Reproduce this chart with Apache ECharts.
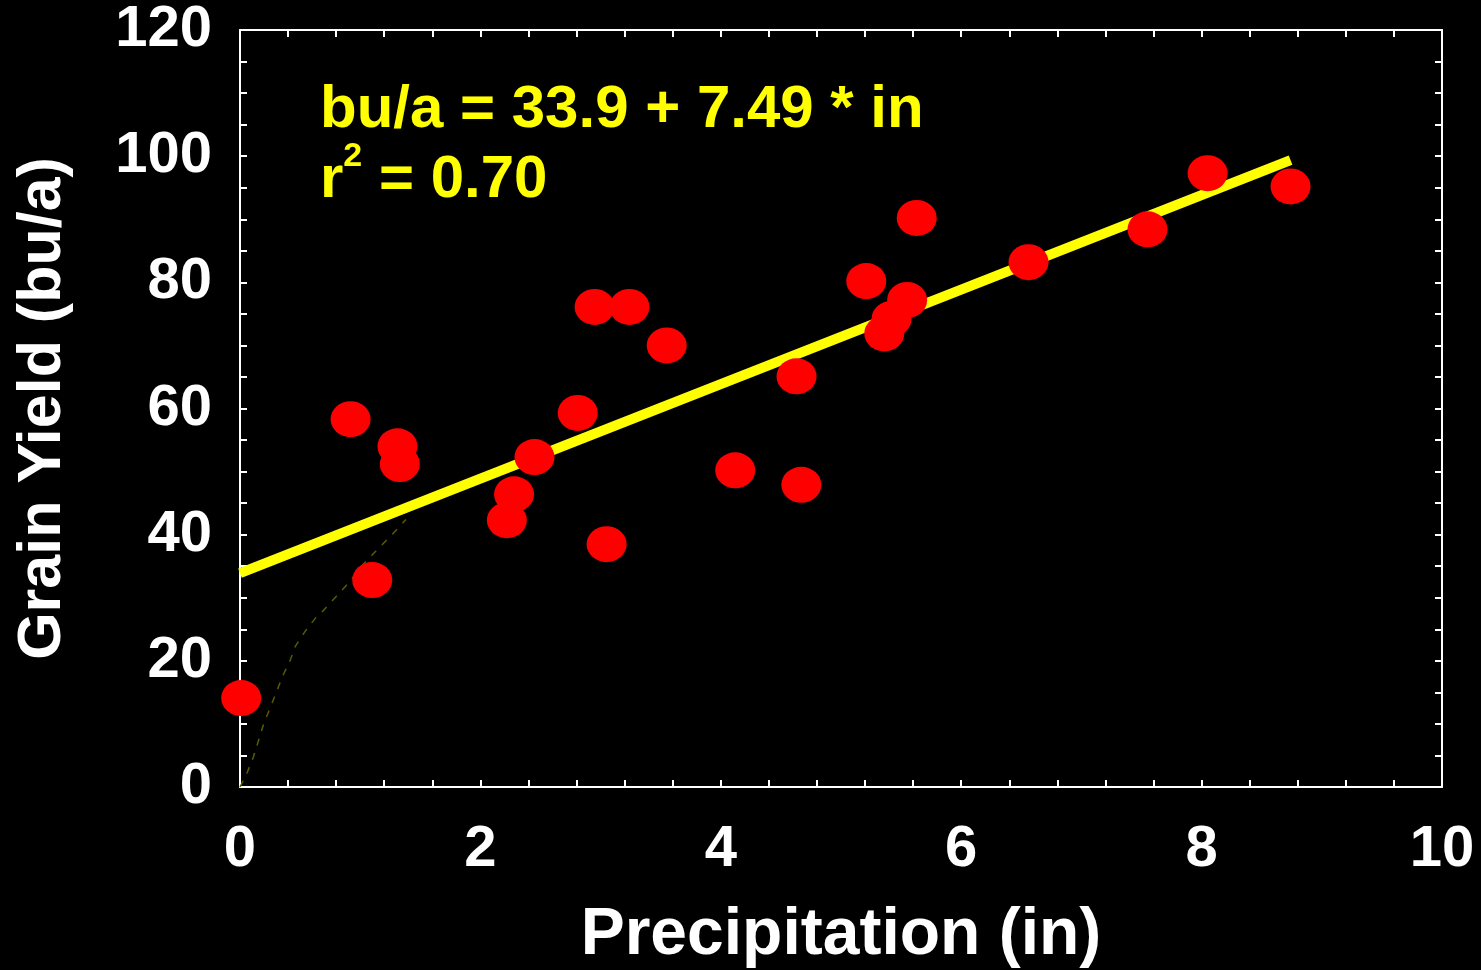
<!DOCTYPE html>
<html><head><meta charset="utf-8">
<script src="https://cdn.jsdelivr.net/npm/echarts@6/dist/echarts.min.js"></script>
<style>html,body{margin:0;padding:0;background:#000;}#c{width:1481px;height:970px;}</style>
</head><body><div id="c"></div>
<script>
// Observed points: precipitation (in) and grain yield (bu/a)
const precip = [0.01,0.92,1.10,1.31,1.33,2.22,2.28,2.45,2.81,2.95,3.05,3.24,3.55,4.12,4.63,4.67,5.21,5.36,5.42,5.55,5.63,6.56,7.55,8.05,8.74];
const yieldBu = [14.1,58.3,32.8,54.0,51.2,42.3,46.4,52.3,59.3,76.1,38.5,76.1,70.0,50.2,65.1,47.9,80.2,71.9,74.2,77.2,90.2,83.2,88.4,97.3,95.2];
// Regression line endpoints
const fitX = [0, 8.74];
const fitY = [33.9, 99.36];
// Faint dotted curve near origin
const curveX = [0.0,0.06,0.11,0.15,0.19,0.21,0.26,0.31,0.36,0.42,0.46,0.55,0.65,0.68,0.80,0.92,1.02,1.14,1.26,1.38];
const curveY = [0.0,2.3,4.7,7.1,9.6,10.6,13.0,15.4,17.8,20.2,22.3,24.9,27.3,27.7,30.2,32.7,35.2,37.6,39.9,42.4];
const eqLine1 = 'bu/a = 33.9 + 7.49 * in';
const xTitle = 'Precipitation (in)';
const yTitle = 'Grain Yield (bu/a)';

const font = 'Liberation Sans, Arial, sans-serif';
const pts = precip.map((x,i)=>[x,yieldBu[i]]);
const fit = fitX.map((x,i)=>[x,fitY[i]]);
const curve = curveX.map((x,i)=>[x,curveY[i]]);

const axisLine = {show:true,onZero:false,lineStyle:{color:'#fff',width:2}};
const axisTick = {show:true,inside:true,length:7,lineStyle:{color:'#fff',width:2}};

const chart = echarts.init(document.getElementById('c'));
chart.setOption({
  backgroundColor:'#000',
  animation:false,
  grid:{left:240,right:39,top:30,bottom:183,containLabel:false,outerBoundsMode:'none'},
  xAxis:[
    {type:'value',min:0,max:10,interval:2,position:'bottom',axisLine,axisTick,splitLine:{show:false},
      minorTick:{show:true,splitNumber:5,length:7,lineStyle:{color:'#fff',width:2}},
      axisLabel:{color:'#fff',fontSize:58,fontWeight:'bold',fontFamily:font,margin:34},
      name:xTitle,nameLocation:'middle',nameGap:116,
      nameTextStyle:{color:'#fff',fontSize:66,fontWeight:'bold',fontFamily:font}},
    {type:'value',min:0,max:10,interval:2,position:'top',axisLine,axisTick,splitLine:{show:false},
      minorTick:{show:true,splitNumber:5,length:7,lineStyle:{color:'#fff',width:2}},
      axisLabel:{show:false}}
  ],
  yAxis:[
    {type:'value',min:0,max:120,interval:20,position:'left',axisLine,axisTick,splitLine:{show:false},
      minorTick:{show:true,splitNumber:4,length:7,lineStyle:{color:'#fff',width:2}},
      axisLabel:{color:'#fff',fontSize:58,fontWeight:'bold',fontFamily:font,margin:28},
      name:yTitle,nameLocation:'middle',nameGap:166,nameRotate:90,
      nameTextStyle:{color:'#fff',fontSize:61,fontWeight:'bold',fontFamily:font}},
    {type:'value',min:0,max:120,interval:20,position:'right',axisLine,axisTick,splitLine:{show:false},
      minorTick:{show:true,splitNumber:4,length:7,lineStyle:{color:'#fff',width:2}},
      axisLabel:{show:false}}
  ],
  series:[
    {type:'line',data:curve,showSymbol:false,silent:true,
      lineStyle:{color:'#5a5a00',width:1.5,type:[7,8]},z:1},
    {type:'line',data:fit,showSymbol:false,silent:true,
      lineStyle:{color:'#ffff00',width:10},z:2},
    {type:'scatter',data:pts,symbol:'circle',symbolSize:[40,36],
      itemStyle:{color:'#ff0000',opacity:1},z:3}
  ],
  graphic:[
    {type:'text',left:320,top:80,z:10,
      style:{
        text:'{a|'+eqLine1+'}\n{a|r}{s|2}{a| = 0.70}',
        rich:{
          a:{fill:'#ffff00',fontSize:60,fontWeight:'bold',fontFamily:font,lineHeight:70,verticalAlign:'bottom'},
          s:{fill:'#ffff00',fontSize:34,fontWeight:'bold',fontFamily:font,lineHeight:70,verticalAlign:'top',padding:[0,0,20,0]}
        }
      }}
  ]
});
</script></body></html>
